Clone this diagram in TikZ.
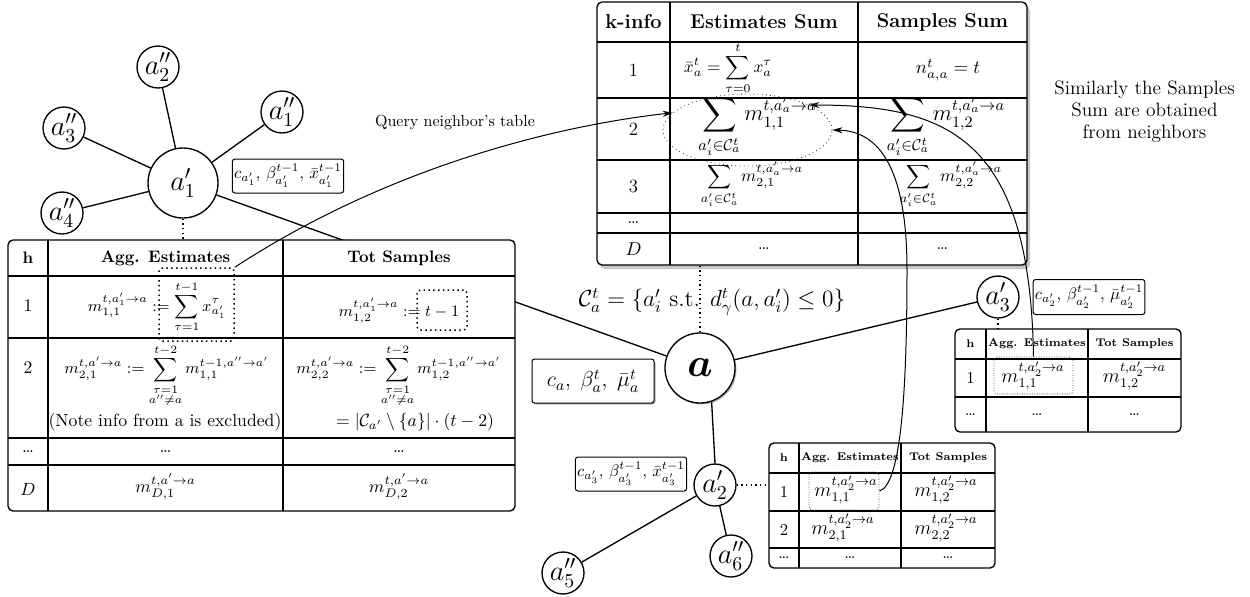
\RequirePackage{fix-cm}
\documentclass[tikz,border=0pt]{standalone}
\usepackage{amsmath}
\usetikzlibrary{arrows.meta,shapes.geometric}
\newcommand{\setfs}[1]{\fontsize{#1}{#1}\selectfont}
\begin{document}
\begin{tikzpicture}[x=0.6pt,y=-0.6pt,
  ag/.style={circle,draw,line width=0.8pt,fill=white,inner sep=0pt,minimum size=25.2pt,font=\setfs{17}},
  bigag/.style={ag,minimum size=42pt},
  edge/.style={line width=0.8pt},
  link/.style={dotted,line width=0.8pt},
  tbl/.style={draw,line width=0.8pt,rounded corners=3pt,fill=white,inner sep=0pt},
  grd/.style={line width=0.7pt},
  ibox/.style={draw,line width=0.6pt,rounded corners=1.5pt,fill=white,inner sep=1pt,font=\setfs{10}},
  bighd/.style={font=\setfs{12}\bfseries},
  bigtx/.style={font=\setfs{11.2}},
  bigmath/.style={font=\setfs{10.4}},
  hd/.style={font=\setfs{10}\bfseries},
  tx/.style={font=\setfs{10.6}},
  lm/.style={font=\setfs{9.6}},
  shd/.style={font=\setfs{6.7}\bfseries},
  snum/.style={font=\setfs{10}},
  sm/.style={font=\setfs{12}},
  qbox/.style={draw,dotted,line width=0.9pt,rounded corners=2pt,inner sep=0pt},
  sbox/.style={draw,densely dotted,line width=0.5pt,black!75,rounded corners=2pt,inner sep=0pt},
  arr/.style={line width=0.6pt,-{Stealth[length=6pt,width=3.6pt]}},
  shadowfill/.style={fill=black!30},
]
\useasboundingbox (0,0) rectangle (1250,596);

% ---------- agents ----------
\node[bigag] (a1p) at (183,183) {$a'_1$};
\node[ag] (a2pp) at (158,67) {$a''_2$};
\node[ag] (a1pp) at (282,112) {$a''_1$};
\node[ag] (a3pp) at (64,128) {$a''_3$};
\node[ag] (a4pp) at (62,213) {$a''_4$};
\fill[shadowfill] (701.5,369.5) circle (21pt);
\node[bigag,font=\setfs{24}] (na) at (700,368) {$\boldsymbol{a}$};
\node[ag] (a3p) at (998,297) {$a'_3$};
\node[ag] (a2p) at (715,485) {$a'_2$};
\node[ag] (a5pp) at (563,573) {$a''_5$};
\node[ag] (a6pp) at (731,556) {$a''_6$};

% ---------- edges ----------
\draw[edge] (a1p) -- (a2pp);
\draw[edge] (a1p) -- (a1pp);
\draw[edge] (a1p) -- (a3pp);
\draw[edge] (a1p) -- (a4pp);
\draw[edge] (a1p) -- (na);
\draw[edge] (na) -- (a3p);
\draw[edge] (na.-71) -- (a2p.north);
\draw[edge] (a2p) -- (a5pp);
\draw[edge] (a2p) -- (a6pp);

% ---------- info boxes ----------
\node[ibox,minimum width=66pt,minimum height=20.4pt] (ia1) at (288,176) {$c_{a'_1},\,\beta^{t-1}_{a'_1},\,\bar{x}^{t-1}_{a'_1}$};
\fill[shadowfill,rounded corners=1.5pt] (533.5,360.5) rectangle (655.5,404.5);
\node[ibox,minimum width=73.2pt,minimum height=26.4pt,font=\setfs{13}] (ia) at (593,381) {$c_a,\;\beta^t_a,\;\bar{\mu}^t_a$};
\node[ibox,minimum width=66pt,minimum height=21pt] (ia2) at (1089,297) {$c_{a'_2},\,\beta^{t-1}_{a'_2},\,\bar{\mu}^{t-1}_{a'_2}$};
\node[ibox,minimum width=66.6pt,minimum height=20.4pt] (ia3) at (631,474) {$c_{a'_3},\,\beta^{t-1}_{a'_3},\,\bar{x}^{t-1}_{a'_3}$};

% ---------- top table ----------
\fill[black!22,rounded corners=3pt] (600,6) rectangle (1030,269);
\node[tbl,minimum width=258pt,minimum height=157.8pt] (TT) at (812,133.5) {};
\draw[grd] (670,2) -- (670,265) (858,2) -- (858,265);
\draw[grd] (597,42) -- (1027,42) (597,98) -- (1027,98) (597,160) -- (1027,160)
  (597,213) -- (1027,213) (597,233) -- (1027,233);
\node[bighd] (th1) at (633.5,22) {k-info};
\node[bighd] (th2) at (764,22) {Estimates Sum};
\node[bighd] (th3) at (942.5,22) {Samples Sum};
\node[bigtx] (t11) at (633.5,70) {1};
\node[bigmath] (t12) at (728,68) {$\displaystyle \bar{x}^t_a=\sum_{\tau=0}^{t}x^{\tau}_a$};
\node[bigtx] (t13) at (948,70) {$n^t_{a,a}=t$};
\node[bigtx] (t21) at (633.5,129) {2};
\node[font=\setfs{13.5}] (t22) at (757.5,127) {$\displaystyle\sum_{a'_i\in\mathcal{C}^t_a} m^{t,a'_a\to a}_{1,1}$};
\node[font=\setfs{13.5}] (t23) at (946,127) {$\displaystyle\sum_{a'_i\in\mathcal{C}^t_a} m^{t,a'_a\to a}_{1,2}$};
\node[bigtx] (t31) at (633.5,186.5) {3};
\node[bigmath] (t32) at (752,185) {$\displaystyle\sum_{a'_i\in\mathcal{C}^t_a} m^{t,a'_a\to a}_{2,1}$};
\node[bigmath] (t33) at (951,185) {$\displaystyle\sum_{a'_i\in\mathcal{C}^t_a} m^{t,a'_a\to a}_{2,2}$};
\node[bigtx] (t41) at (633.5,223) {\dots};
\node[bigtx] (t51) at (633.5,249) {$D$};
\node[bigtx] (t52) at (764,249) {\dots};
\node[bigtx] (t53) at (942.5,249) {\dots};
\node[draw,ellipse,dotted,line width=0.5pt,black!80,minimum width=101.4pt,minimum height=43.2pt,inner sep=0pt] (ell) at (747.5,130) {};

% ---------- left table ----------
\node[tbl,minimum width=304.2pt,minimum height=162.6pt] (LT) at (261.5,375.5) {};
\draw[grd] (48,240) -- (48,511) (283,240) -- (283,511);
\draw[grd] (8,276) -- (515,276) (8,338) -- (515,338) (8,438) -- (515,438) (8,465) -- (515,465);
\node[hd] (lh1) at (28,258) {h};
\node[hd] (lh2) at (165.5,258) {Agg. Estimates};
\node[hd] (lh3) at (399,258) {Tot Samples};
\node[tx] (l11) at (28,306) {1};
\node[lm] (l12) at (157,307) {$\displaystyle m^{t,a'_1\to a}_{1,1} := \sum_{\tau=1}^{t-1} x^{\tau}_{a'_1}$};
\node[lm] (l13) at (399,311) {$\displaystyle m^{t,a'_1\to a}_{1,2} := t-1$};
\node[qbox,minimum width=45pt,minimum height=43.8pt] (q1) at (196.5,304.5) {};
\node[qbox,minimum width=30pt,minimum height=24pt] (q2) at (442,310) {};
\node[tx] (l21) at (28,368) {2};
\node[lm] (l22) at (166.5,376) {$\displaystyle m^{t,a'\to a}_{2,1} := \sum_{\substack{\tau=1\\ a''\neq a}}^{t-2} m^{t-1,a''\to a'}_{1,1}$};
\node[lm] (l23) at (398.5,376) {$\displaystyle m^{t,a'\to a}_{2,2} := \sum_{\substack{\tau=1\\ a''\neq a}}^{t-2} m^{t-1,a''\to a'}_{1,2}$};
\node[tx] (l24) at (165,422) {(Note info from a is excluded)};
\node[tx,anchor=east] (l25) at (500,422) {$= |\mathcal{C}_{a'}\setminus\{a\}|\cdot(t-2)$};
\node[tx] (l31) at (28,451.5) {\dots};
\node[tx] (l32) at (165.5,451.5) {\dots};
\node[tx] (l33) at (399,451.5) {\dots};
\node[tx] (l41) at (28,489) {$D$};
\node[tx] (l42) at (165.5,487) {$m^{t,a'\to a}_{D,1}$};
\node[tx] (l43) at (399,487) {$m^{t,a'\to a}_{D,2}$};

% ---------- right small table ----------
\node[tbl,minimum width=135.6pt,minimum height=61.8pt] (RT) at (1068,380.5) {};
\draw[grd] (986,329) -- (986,432) (1088,329) -- (1088,432);
\draw[grd] (955,359) -- (1181,359) (955,397) -- (1181,397);
\node[shd] (rh1) at (970.5,344) {h};
\node[shd] (rh2) at (1037,344) {Agg. Estimates};
\node[shd] (rh3) at (1134.5,344) {Tot Samples};
\node[snum] (r11) at (970.5,378) {1};
\node[sm] (r12) at (1033,376) {$m^{t,a'_2\to a}_{1,1}$};
\node[sm] (r13) at (1134.5,376) {$m^{t,a'_2\to a}_{1,2}$};
\node[snum] (r21) at (970.5,414.5) {\dots};
\node[snum] (r22) at (1037,414.5) {\dots};
\node[snum] (r23) at (1134.5,414.5) {\dots};
\node[sbox,minimum width=47.4pt,minimum height=22.2pt] (rbox) at (1033.5,375.5) {};

% ---------- bottom small table ----------
\node[tbl,minimum width=135.6pt,minimum height=75pt] (BT) at (882,505.5) {};
\draw[grd] (799,443) -- (799,568) (901,443) -- (901,568);
\draw[grd] (769,473) -- (995,473) (769,511) -- (995,511) (769,548) -- (995,548);
\node[shd] (bh1) at (784,458) {h};
\node[shd] (bh2) at (850,458) {Agg. Estimates};
\node[shd] (bh3) at (948,458) {Tot Samples};
\node[snum] (b11) at (784,492) {1};
\node[sm] (b12) at (846,490) {$m^{t,a'_2\to a}_{1,1}$};
\node[sm] (b13) at (946,490) {$m^{t,a'_2\to a}_{1,2}$};
\node[snum] (b21) at (784,529.5) {2};
\node[sm] (b22) at (843,528) {$m^{t,a'_2\to a}_{2,1}$};
\node[sm] (b23) at (946,528) {$m^{t,a'_2\to a}_{2,2}$};
\node[snum] (b31) at (784,558) {\dots};
\node[snum] (b32) at (850,558) {\dots};
\node[snum] (b33) at (948,558) {\dots};
\node[sbox,minimum width=42pt,minimum height=22.8pt] (bbox) at (844,491) {};

% ---------- dotted links ----------
\draw[link] (a1p.south) -- (a1p |- LT.north);
\draw[link] (na |- TT.south) -- (na.north);
\draw[link] (a3p.south) -- (a3p |- RT.north);
\draw[link] (a2p.east) -- (a2p -| BT.west);

% ---------- labels ----------
\node[font=\setfs{14}] (cset) at (712,302) {$\mathcal{C}^t_a=\{a'_i\text{ s.t. }d^t_\gamma(a,a'_i)\le 0\}$};
\node[font=\setfs{9.6}] (qlab) at (455,123) {Query neighbor's table};
\node[font=\fontsize{11.6}{13.2}\selectfont,align=center] (slab) at (1144.5,112) {Similarly the Samples\\Sum are obtained\\from neighbors};

% ---------- arrows ----------
\coordinate (via) at (907,270);
\draw[arr] (q1.north east) .. controls (393,164) and (563,125) .. (ell.167);
\draw[arr] (bbox.east) .. controls (900,485) and (907,400) .. (via) .. controls (907,170) and (880,131) .. (ell.east);
\draw[arr] (rbox.north) .. controls (1030,140) and (950,105) .. (ell.22);
\end{tikzpicture}
\end{document}
